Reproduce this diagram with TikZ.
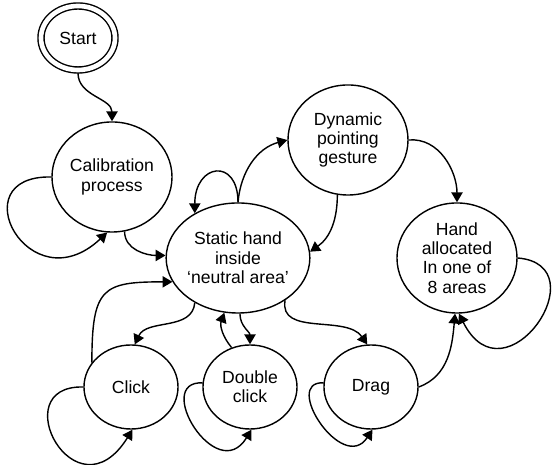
\documentclass[tikz,border=0pt]{standalone}
\usepackage{fontspec}
\setmainfont{Liberation Sans}
\usetikzlibrary{arrows.meta,shapes.geometric}

\begin{document}
\begin{tikzpicture}[x=0.025cm, y=0.025cm, line width=1pt,
    state/.style={draw, ellipse, inner sep=0pt, align=center,
      minimum width=3cm, minimum height=2.75cm,
      font=\fontsize{12.5}{13.8}\selectfont},
    small state/.style={state, minimum width=2.35cm, minimum height=2.1cm},
    trans/.style={-{Triangle[length=7pt,width=8pt]}}]
  \useasboundingbox (0,0) rectangle (555,465);

  % Zustaende
  \node[state, double, double distance=3.3pt, outer sep=2.2pt,
    minimum width=1.85cm, minimum height=1.6cm] (start) at (78,427) {Start};
  \node[state] (calib) at (112,288) {Calibration\\process};
  \node[state] (static) at (238,207) {Static hand\\inside\\‘neutral area’};
  \node[state] (dyn) at (348,325) {Dynamic\\pointing\\gesture};
  \node[state] (hand) at (457,207) {Hand\\allocated\\In one of\\8 areas};
  \node[small state] (click) at (131,78) {Click};
  \node[small state] (dclick) at (250,78) {Double\\click};
  \node[small state] (drag) at (371,78) {Drag};

  % Uebergaenge
  \draw[trans] (start.south) to[out=-90,in=90] (calib.north);
  \draw[trans] (calib.west) .. controls +(-92,2) and +(-78,-73) .. (calib.-95);
  \draw[trans] (calib.-77) to[out=-90,in=180] (static.178);
  \draw[trans] (static.north) .. controls +(0,45) and +(0,50) .. (static.134);
  \draw[trans] (static.north) to[out=85,in=195] (dyn.west);
  \draw[trans] (dyn.-101) to[out=-90,in=35] (static.5);
  \draw[trans] (dyn.east) to[out=5,in=90] (hand.north);
  \draw[trans] (hand.east) .. controls +(83,-7) and +(46,-92) .. (hand.-88);

  \draw[trans] (click.148) .. controls +(0,75) and +(-70,0) .. (static.200);
  \draw[trans] (static.226) to[out=-95,in=65] (click.85);
  \draw[trans] (click.west) .. controls +(-80,2) and +(-57,-91) .. (click.-88);
  \draw[trans] (static.-88) to[out=-90,in=90] (dclick.north);
  \draw[trans] (dclick.115) to[out=130,in=-110] (static.-104);
  \draw[trans] (dclick.175) .. controls +(-50,2) and +(-35,-57) .. (dclick.-88);
  \draw[trans] (static.-42) to[out=-100,in=125] (drag.95);
  \draw[trans] (drag.175) .. controls +(-42,2) and +(-30,-45) .. (drag.-88);
  \draw[trans] (drag.east) to[out=20,in=-95] (hand.-92);
\end{tikzpicture}
\end{document}
